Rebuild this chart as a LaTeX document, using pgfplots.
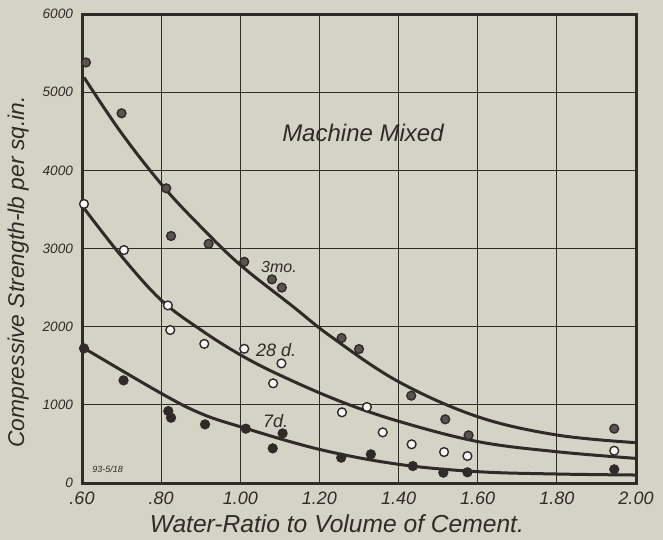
\documentclass[border=0pt]{standalone}
\usepackage{pgfplots}
\pgfplotsset{compat=1.18}
\usepackage{fontspec}
\setmainfont{Liberation Sans}
\definecolor{paper}{RGB}{213,210,198}
\definecolor{ink}{RGB}{48,43,38}
\begin{document}
\begin{tikzpicture}
\fill[paper] (0,0) rectangle (331.5pt,270pt);
\begin{axis}[
  at={(41pt,28.5pt)}, anchor=south west,
  scale only axis, width=277pt, height=234.5pt,
  xmin=0.6, xmax=2.0, ymin=0, ymax=6000,
  axis line style={ink, line width=1.5pt},
  grid=major, grid style={ink, line width=0.6pt},
  major tick length=0pt,
  xtick={0.6,0.8,1.0,1.2,1.4,1.6,1.8,2.0},
  xticklabels={.60,.80,1.00,1.20,1.40,1.60,1.80,2.00},
  ytick={0,1000,2000,3000,4000,5000,6000},
  yticklabels={0,1000,2000,3000,4000,5000,6000},
  xticklabel style={font=\itshape\fontsize{9}{10}\selectfont, text=ink, yshift=-1pt},
  yticklabel style={font=\itshape\fontsize{6.8}{8}\selectfont, text=ink, xshift=-1pt},
  xlabel={Water-Ratio to Volume of Cement.},
  ylabel={Compressive Strength-lb per sq.in.},
  xlabel style={font=\itshape\fontsize{12.3}{13}\selectfont, text=ink, at={(axis description cs:0.46,-0.087)}, anchor=center},
  ylabel style={font=\itshape\fontsize{11.4}{12}\selectfont, text=ink, at={(axis description cs:-0.115,0.45)}, anchor=center, rotate=0},
  clip=false,
]
% fitted curves
\addplot[ink, line width=1.5pt, smooth, tension=0.6] coordinates {
 (0.605,5190) (0.70,4475) (0.806,3790) (0.90,3280) (1.00,2790) (1.13,2270) (1.23,1870) (1.40,1296) (1.60,848) (1.80,614) (2.00,516)};
\addplot[ink, line width=1.5pt, smooth, tension=0.6] coordinates {
 (0.605,3515) (0.70,2900) (0.80,2340) (0.90,1960) (1.00,1640) (1.10,1380) (1.25,1050) (1.40,790) (1.60,530) (1.80,400) (2.00,315)};
\addplot[ink, line width=1.5pt, smooth, tension=0.6] coordinates {
 (0.605,1725) (0.80,1147) (0.90,890) (1.00,720) (1.20,430) (1.40,239) (1.60,145) (1.80,115) (2.00,102)};
% 3 months
\addplot[only marks, mark=*, mark size=2.2pt, mark options={draw=ink, fill=ink!75!paper, line width=0.7pt}] coordinates {
 (0.61,5380) (0.70,4730) (0.813,3770) (0.825,3160) (0.92,3060) (1.01,2830) (1.08,2605) (1.105,2500)
 (1.256,1855) (1.30,1713) (1.432,1117) (1.518,815) (1.577,610) (1.945,695)};
% 28 days
\addplot[only marks, mark=*, mark size=2.2pt, mark options={draw=ink, fill=white!85!paper, line width=0.7pt}] coordinates {
 (0.605,3570) (0.706,2980) (0.817,2272) (0.823,1957) (0.909,1780) (1.01,1717) (1.104,1530) (1.083,1275)
 (1.257,904) (1.32,972) (1.36,648) (1.433,495) (1.515,396) (1.574,345) (1.945,413)};
% 7 days
\addplot[only marks, mark=*, mark size=2.2pt, mark options={draw=ink, fill=ink, line width=0.7pt}] coordinates {
 (0.605,1722) (0.705,1313) (0.818,920) (0.825,835) (0.911,750) (1.014,695) (1.107,635) (1.082,443)
 (1.255,324) (1.33,367) (1.436,217) (1.513,132) (1.574,137) (1.945,175)};
\node[font=\itshape\fontsize{12}{13}\selectfont, text=ink] at (axis cs:1.31,4475) {Machine Mixed};
\node[font=\itshape\fontsize{8}{9}\selectfont, text=ink, anchor=west] at (axis cs:1.035,2760) {3mo.};
\node[font=\itshape\fontsize{9}{10}\selectfont, text=ink, anchor=west] at (axis cs:1.022,1700) {28 d.};
\node[font=\itshape\fontsize{9}{10}\selectfont, text=ink, anchor=west] at (axis cs:1.04,790) {7d.};
\node[font=\itshape\fontsize{4.5}{5}\selectfont, text=ink] at (axis cs:0.665,180) {93-5/18};
\end{axis}
\pgfresetboundingbox
\useasboundingbox (0,0) rectangle (331.5pt,270pt);
\end{tikzpicture}
\end{document}
